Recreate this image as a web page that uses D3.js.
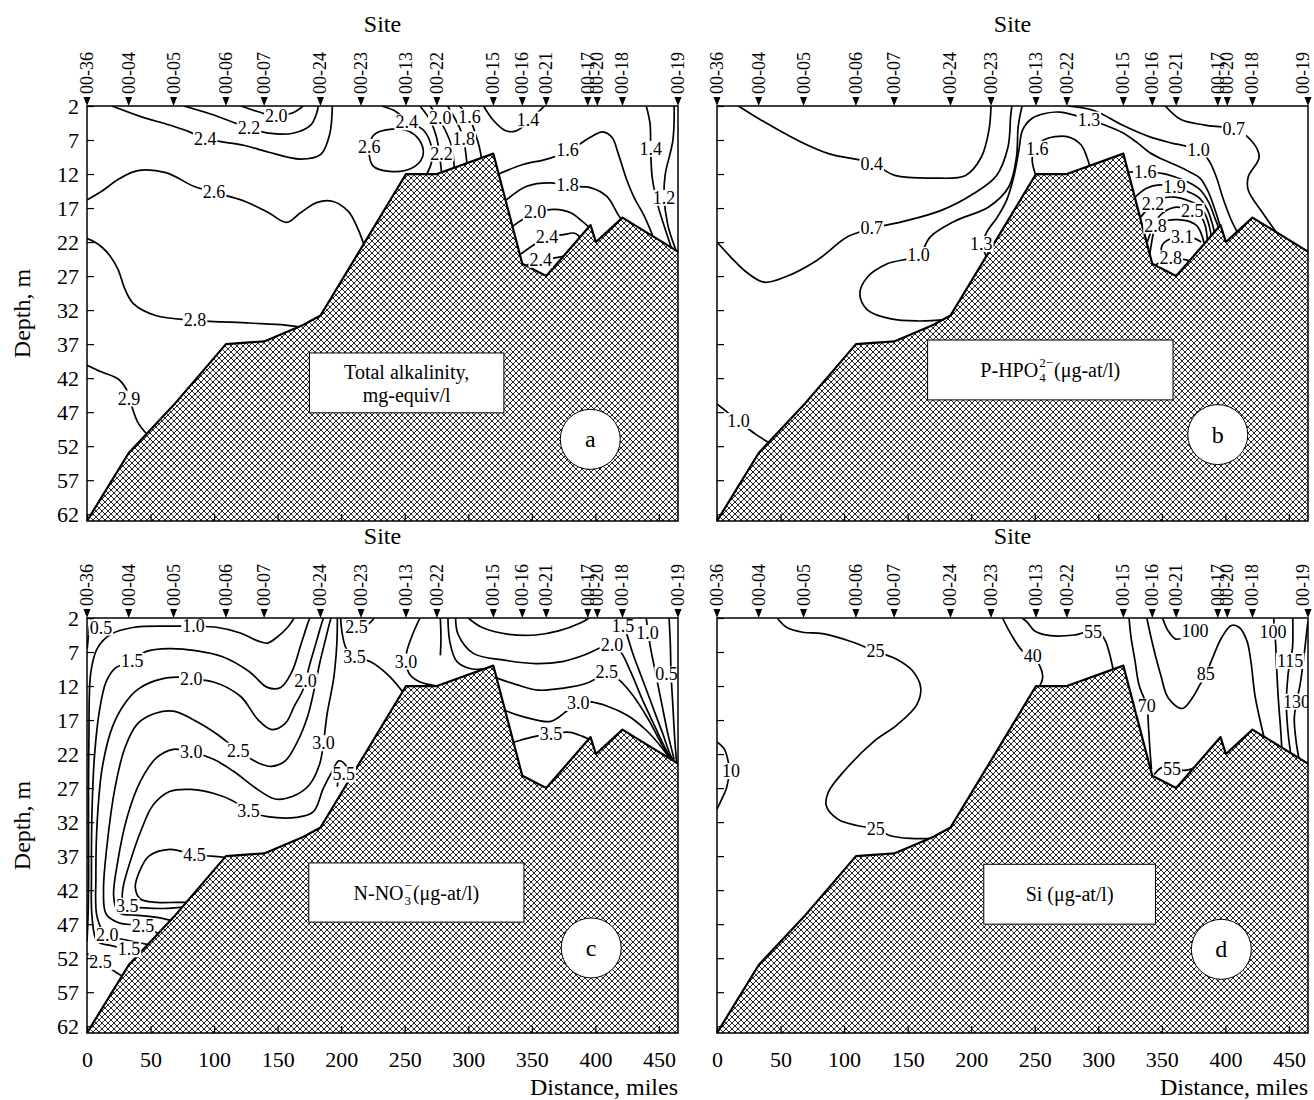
<!DOCTYPE html>
<html>
<head>
<meta charset="utf-8">
<script src="https://cdn.jsdelivr.net/npm/d3@7"></script>
<style>
  body { margin: 0; background: #fff; }
  svg text { font-family: "Liberation Serif", "Times New Roman", serif; fill: #000; }
</style>
</head>
<body>
<svg id="chart" width="1314" height="1100"></svg>
<script>
// stations along the section (miles from 00-36)
const sites = ['00-36','00-04','00-05','00-06','00-07','00-24','00-23','00-13','00-22','00-15','00-16','00-21','00-17','00-20','00-18','00-19'];
const siteMiles = [0, 32.8, 68.1, 109.3, 139.4, 183.7, 215.6, 251, 275.3, 319.7, 342.5, 361.3, 394, 401.5, 421.3, 465];

// bottom profile
const bedMiles = [0, 32.8, 68, 109.3, 139.4, 170, 183.7, 251, 275.3, 319.7, 342.5, 361.3, 396.2, 400.4, 421.3, 465];
const bedDepth = [63, 53, 46, 37, 36.6, 34.2, 32.8, 12, 12, 9, 25.2, 27, 19.5, 22, 18.4, 23.4];

const depthTicks = [2, 7, 12, 17, 22, 27, 32, 37, 42, 47, 52, 57, 62];
const distTicks = [0, 50, 100, 150, 200, 250, 300, 350, 400, 450];

// isolines: [miles, depth]
const alkContours = [
  {v:'2.4', pts:[[19.7,2],[43,3.6],[65,4.8],[80.6,5.8],[93,6.8],[124,7.8],[143,8.8],[168,9.8],[184,9.1],[191,6.1],[193,2]], at:[[93,6.8]]},
  {v:'2.2', pts:[[76,2],[96,3.1],[118,4.6],[127.5,5.3],[143,6],[162,6],[176,4.8],[180.6,3.1],[182,2]], at:[[127.5,5.3]]},
  {v:'2.0', pts:[[121,2],[134,2.8],[149,3.5],[162,3],[170,2]], at:[[149,3.5]]},
  {v:'2.6', closed:true, pts:[[222,8],[226,6.2],[240,5.4],[254,5.8],[263,7.5],[264,9.5],[255,11.2],[238,11.6],[225,10.8]], at:[[222,8]]},
  {v:'2.4', pts:[[232,2],[243,2.8],[252.5,4.3],[265,5.6],[271,8],[271,10.3],[266,12.5]], at:[[251.5,4.4]]},
  {v:'2.2', pts:[[262,2],[270,4.1],[275,6.6],[277.5,9.3],[279,12]], at:[[279,9]]},
  {v:'2.0', pts:[[270,2],[276,3.6],[282,5.6],[287,8],[289,11.2]], at:[[278,3.7]]},
  {v:'1.8', pts:[[283.8,2],[291.6,4.6],[296,6.6],[297.8,8.6],[299,10.6]], at:[[296.5,6.9]]},
  {v:'1.6', pts:[[293,2],[301,3.8],[305.6,6.1],[308.8,8.1],[310.5,9.8]], at:[[301,3.6]]},
  {v:'1.4', pts:[[312,2],[319.7,4.1],[329,5.6],[337,5.7],[348,4.3],[355.6,2.8],[360,2]], at:[[347,4]]},
  {v:'1.6', pts:[[324,12],[343,10.6],[362,9.8],[379,8.6],[396,6.6],[405.6,5.8],[413,6.6],[418,9],[424,12.5],[430.6,15.5],[438,18],[445,21]], at:[[378,8.5]]},
  {v:'1.4', pts:[[440,2],[443,4.6],[443.5,8.3],[444.7,12.5],[449,16.5],[455.6,20.5],[460,23]], at:[[443.5,8.3]]},
  {v:'1.2', pts:[[462,2],[461,7],[455,12],[454,15],[457,19.5],[462,22.5],[464,23.5]], at:[[454,15.5]]},
  {v:'1.8', pts:[[330,15.8],[346,13.8],[365,13.3],[380.6,13.8],[396,14],[409,15.3],[418,18],[421,18.8]], at:[[378,13.6]]},
  {v:'2.0', pts:[[334,19.8],[352.5,17.7],[368,17.2],[380.6,17.7],[390,19],[396,20]], at:[[352.5,17.6]]},
  {v:'2.4', pts:[[341,23.8],[355,22],[362,21.3],[375,20.9],[383.7,20.7],[389,21.5]], at:[[362,21.3]]},
  {v:'2.4', pts:[[345,25.5],[356,24.6],[366,24.4],[377,24]], at:[[357,24.6]]},
  {v:'2.6', pts:[[0,15.8],[11.9,14.5],[24.4,12.8],[40,11.5],[62,11.8],[84,13.8],[100,14.7],[124,16],[143,17.7],[157,19.1],[168,17.7],[180.6,16.2],[193,16],[205.6,17.5],[213,20],[219,23]], at:[[100,14.7]]},
  {v:'2.8', pts:[[0,21.5],[6,22],[12,22.8],[18,24],[24.4,26],[30,29],[36.3,31],[54,32.8],[85,33.5],[128,33.9],[156,34.2],[171,34.6]], at:[[85,33.4]]},
  {v:'2.9', pts:[[0,40.1],[11.6,41.1],[25,42.2],[32,44],[35,46],[40,48.5],[46,50],[51,51]], at:[[33,45]]}
];

const phosContours = [
  {v:'0.4', pts:[[16.9,2],[32.3,3.8],[63,7],[87.8,9],[121.7,10.4],[140,12.2],[171,12.6],[195.6,12.2],[208,9.5],[214,5.5],[215.6,2]], at:[[121.7,10.5]]},
  {v:'0.7', pts:[[0,22],[10.8,24.2],[23,26.4],[37,27.9],[54,27.1],[78.5,24.7],[103,21.2],[121.7,20],[146,19],[177,17.3],[201.7,14.9],[220,12.2],[229,8],[231,3.6],[232,2]], at:[[121.7,20]]},
  {v:'1.0', pts:[[240,2],[237,5],[235.6,9.5],[229.5,13.9],[214,16.8],[186.3,19],[168,21.2],[158.6,23.9],[134,25.2],[118.6,27.1],[112.4,29.6],[118.6,32],[137,33.3],[158.6,33.6],[181,33.4]], at:[[158.6,23.9]]},
  {v:'1.3', pts:[[213,24.6],[209,22.3],[213,20.3],[220,18.5],[228,15.8],[234,12],[237.5,8.5],[240.5,5.5],[248,3.8],[258,3.1],[270,2.9],[292.6,4],[305,4.8],[318.8,5.9],[330,7.3],[340,8.8],[350,9.8],[360,10.6],[372,11.7],[380,12.6],[386,14.4],[391,16.8],[394,18.5],[396,19.8]], at:[[208,22.3],[292.6,4]]},
  {v:'1.6', pts:[[251,12.3],[248,10],[250,8.2],[257,7],[266,6.5],[275.6,6.5],[286.4,7.7],[291,9.5],[293.5,11]], at:[[252,8.3]]},
  {v:'1.0', pts:[[275.7,2],[297,2.7],[318.8,4.8],[340,6.5],[358.8,7.5],[378.8,8.4],[387,10],[393,12.5],[398,15.5],[404,18.5],[410,20.8]], at:[[378.8,8.4]]},
  {v:'0.7', pts:[[352.7,2],[365,4],[383.5,4.8],[406.6,5.4],[420,7],[426.6,9.5],[418,12.4],[418,14.4],[429.7,17.8],[441,20.8]], at:[[406.6,5.4]]},
  {v:'1.6', pts:[[323.5,11.7],[337,11.7],[350,11.9],[360,12.4],[372,13.3],[380,14.3],[387,16.2],[392,18.6],[395,20]], at:[[337,11.7]]},
  {v:'1.9', pts:[[329,15.4],[338,14.1],[348,13.6],[360,13.9],[372,14.7],[380,15.6],[386,17.3],[390,19.5],[391.5,20.8]], at:[[360,13.9]]},
  {v:'2.2', pts:[[333.5,18.3],[343,16.4],[352,15.5],[360,15.4],[372,16],[380,16.8],[385,18.3],[388,20.2],[389,21.3]], at:[[343,16.4]]},
  {v:'2.5', pts:[[338.5,22],[348,18.2],[360,16.9],[374,17.4],[380,18],[384,19.5],[386,22]], at:[[374,17.4]]},
  {v:'2.8', pts:[[340.5,23.8],[343,21],[345,19.6],[355,18.8],[362,18.7],[372,19],[378,19.7],[382,21.3],[383.5,22.5]], at:[[345,19.6]]},
  {v:'3.1', pts:[[381,22],[372,21.2],[366,21.3],[356,21.6],[350.5,22.4],[350,23.5],[353.5,24],[358,23.6]], at:[[366,21.3]]},
  {v:'2.8', pts:[[343.5,25.5],[357,24.4],[366,24.5],[373,24.8]], at:[[357,24.4]]},
  {v:'1.0', pts:[[0,45.8],[8,47],[19,48.6],[30,50.2],[42,51.6]], at:[[17,48.3]]}
];

const nitContours = [
  {v:'0.5', pts:[[3,2],[1.5,4],[0.2,6.5]], at:[[11,3.4]]},
  {v:'1.0', pts:[[163,2],[157.7,3.4],[149,4.9],[142,5.7],[134.8,5.4],[120.7,4.2],[103,3.4],[83.8,3.2],[64.4,3.2],[36,3.4],[18.7,4.4],[8,6.5],[3,10],[1.5,20],[1.2,30],[1.3,40],[0.8,46],[0,49.5]], at:[[83.8,3.2]]},
  {v:'1.5', pts:[[175.3,2],[173.5,2.9],[168.3,5.9],[161.2,9.9],[152.4,12.2],[141.9,12.2],[127.8,9.9],[106.7,7.7],[85.5,6.8],[64.4,6.5],[46.8,6.9],[35.6,8.3],[22,9.4],[15,11.4],[9.9,15.5],[6,22],[4,30],[3.5,40],[4,46],[8,49.5],[20,50.2],[34,50.8],[44,51]], at:[[35.6,8.3],[33,50.7]]},
  {v:'2.0', pts:[[186,2],[183.5,3.5],[180.6,5.4],[175,9],[170,12.5],[163,15],[156,17.5],[145.4,18.4],[134.8,17],[120.7,13.5],[99.6,11.4],[82,11],[71.5,10.7],[53.9,11.2],[40,12.5],[30,14.5],[20,18],[12,24],[8,32],[7,40],[8,46],[15,48.6],[30,49.3],[48,50]], at:[[82,11],[172,11.2],[16,48.6]]},
  {v:'2.5', pts:[[192,2],[190.5,3],[188,4.9],[183.4,8.4],[178.8,12.5],[173.5,16.5],[164.7,20.5],[156,23],[145.4,23.8],[134.8,23.3],[119,21.5],[104,19.3],[89,17.5],[68,15.7],[53.9,16],[40,17.5],[30,21],[22,27],[16,35],[13,42],[15,45.5],[25,46.8],[44,47.3],[57,48.5]], at:[[119,21.5],[44,47.3]]},
  {v:'3.0', pts:[[197,2],[196.5,6],[194,11],[189,16],[186,20.4],[183,23.5],[175,26.5],[162,28.2],[148,28.6],[135,27.3],[115,24.5],[100,22.8],[82,21.7],[68,21.3],[55,22.5],[42,26],[32,31],[24,38],[21,43],[25,45.3],[40,45.7],[55,46],[67,46.5]], at:[[82,21.7],[186,20.4]]},
  {v:'3.5', pts:[[207,25.8],[203,23.5],[198,23],[193,24.5],[186,27],[178,30.5],[165,31.3],[142,31.2],[127,30.4],[115,28.9],[100,27.8],[82,27.2],[65,27.5],[52,29.5],[42,33.5],[34,37.8],[28.5,41.5],[28,43.4],[31.7,44.3],[45,44.6],[60,44.7],[76,44.5]], at:[[127,30.4],[31.7,44.3]]},
  {v:'4.5', pts:[[110,37.2],[98,37],[84.6,36.8],[65.2,36],[48.7,37],[41,39.4],[38,41.6],[42,43.3],[55,43.8],[70,43.8],[79,43.8]], at:[[84.6,36.8]]},
  {v:'2.5', pts:[[0,51.3],[5,52],[10.6,52.6],[18,53.5],[29,54.8]], at:[[10.6,52.6]]},
  {v:'2.5', pts:[[203,2],[206,2.8],[210.5,3.3],[217,3.3],[222,2.8],[226,2]], at:[[212,3.3]]},
  {v:'3.5', pts:[[199.5,2],[201,4.5],[204,6.5],[210.5,7.7],[222.8,8.4],[237,10.4],[249,13]], at:[[210.5,7.7]]},
  {v:'5.5', pts:[[197,26.8],[199,25.3],[205,25.2],[207,26]], at:[[202,25]]},
  {v:'3.0', pts:[[262,2],[256,4.5],[251.5,7],[251,8.4],[254,10.3],[262,11.4],[276,12]], at:[[251,8.4]]},
  {v:'', pts:[[278,2],[278.5,5],[278,7.5]]},
  {v:'', pts:[[284,2],[285.5,5.5],[291,8.4],[303,9.5],[316,9.4]]},
  {v:'', pts:[[300,2],[311,3.4],[332,4.4],[353,4.5],[371,3.9],[388.6,2.7],[395,2]]},
  {v:'2.0', pts:[[290,2],[292,4.4],[304,7.2],[328.5,8.2],[353,8.7],[374,8.4],[391.8,7.4],[405,6.3],[413,5.9],[420,7],[428,10],[437,14],[447,18],[456,21.5],[462,23.2]], at:[[413,5.9]]},
  {v:'2.5', pts:[[322,10.8],[338,11.8],[355,12.6],[375,12.3],[393,11.6],[405,10.4],[409,9.9],[418,11],[430,13.5],[442,17],[452,20.5],[461,23.2]], at:[[409,9.9]]},
  {v:'3.0', pts:[[329,15.6],[345,16.6],[365,17.2],[378,15.6],[386.5,14.5],[395,14.3],[410,15],[425,16.3],[440,18.5],[452,21],[460,23.1]], at:[[386.5,14.5]]},
  {v:'3.5', pts:[[335,20.3],[350,19.5],[365,19],[380,18.8],[390,19.4],[396,19.9]], at:[[365,19]]},
  {v:'1.5', pts:[[420,2],[424,4],[430,7.5],[437,11],[445,15],[453,19],[460,22.5],[464,23.4]], at:[[421.7,3.2]]},
  {v:'1.0', pts:[[440,2],[443,6],[446.6,9.4],[452,14.4],[457,19],[462,22.8]], at:[[441,4.2]]},
  {v:'0.5', pts:[[458,2],[459,6],[459.5,10],[461,15],[462.5,20],[464,23.4]], at:[[456,10.3]]}
];

const silContours = [
  {v:'25', pts:[[47.3,2],[55,3.4],[67.4,4.1],[83,4.3],[107.7,5.6],[124.7,6.9],[141.7,8.1],[154,9.8],[160.3,12.3],[157,14.8],[141.7,17.7],[123,20.2],[101.5,24.2],[87.6,27.6],[86,29.6],[95.3,31.6],[110,32.5],[125,33],[136.4,34],[152,34.4],[171,34.4]], at:[[124.7,6.9],[125,33]]},
  {v:'10', pts:[[0,20.2],[5.6,21.2],[8.7,23],[9.5,24.5],[7.5,27],[4,28.5],[0,30.1]], at:[[11,24.5]]},
  {v:'40', pts:[[224.6,2],[231.4,4.4],[240.7,6.9],[248.4,7.6],[254.6,9.3],[256.2,10.8],[253,12.3]], at:[[248.4,7.6]]},
  {v:'55', pts:[[240,2],[244,2.6],[250,3.9],[262.4,4.6],[281,4.5],[295.8,3.9],[302,4.4],[305.7,5.4],[308.9,7.3],[312,9.8]], at:[[295.8,4]]},
  {v:'70', pts:[[324.2,2],[325.8,4.9],[328.9,8.3],[332,11.8],[338.2,15],[339.5,18],[340.5,21],[341.8,24.2]], at:[[338.2,15]]},
  {v:'55', pts:[[344,25],[350,24],[358,24.2],[368,24.4],[376.5,24]], at:[[358,24.2]]},
  {v:'85', pts:[[338.2,2],[342.8,5.9],[349,10.3],[355.2,13.8],[366,15.3],[373.8,13.8],[380,11.8],[384.6,10.3],[389,8.3],[397,4.9],[404.7,3.1],[411,3.4],[417,5.4],[420,8.3],[423.2,13.3],[426.4,16.3],[430.5,19.6]], at:[[384.6,10.3]]},
  {v:'100', pts:[[350.5,2],[355,3.9],[361,5.1],[368,4.8],[376,3.9]], at:[[376,3.9]]},
  {v:'100', pts:[[438.1,2],[438.5,4],[439.4,5.4],[440.3,9.3],[441.8,14.3],[443.4,18.2],[444.5,21.5]], at:[[437.5,4]]},
  {v:'115', pts:[[453,2],[452.8,6.4],[451,8.3],[449.3,10.3],[448,14.8],[449.5,19.2],[451.7,22.3]], at:[[451,8.3]]},
  {v:'130', pts:[[465,2.5],[464,4],[462,7.3],[458.8,11.8],[456,14.3],[454.2,16.8],[455.7,20.2],[458,22.8]], at:[[456,14.3]]}
];

const W = 591, H = 415;
const svg = d3.select('#chart');
const defs = svg.append('defs');

// cross hatching for the sea floor
const hatch = defs.append('pattern')
  .attr('id', 'hatch')
  .attr('patternUnits', 'userSpaceOnUse')
  .attr('width', 6).attr('height', 6);
hatch.append('rect').attr('width', 6).attr('height', 6).attr('fill', '#fff');
hatch.append('path')
  .attr('d', 'M0,0L6,6M6,0L0,6M-1,5L1,7M5,-1L7,1M-1,1L1,-1M5,7L7,5')
  .attr('stroke', '#000').attr('stroke-width', 0.85);

const panels = [
  {id:'a', x0:87, y0:106, contours:alkContours, yLabels:true, xLabels:false, box:[175,328,38.3,47.1], circle:[396,51]},
  {id:'b', x0:717, y0:106, contours:phosContours, yLabels:false, xLabels:false, box:[165.7,358.8,36.4,45.2], circle:[394,50.3]},
  {id:'c', x0:87, y0:618, contours:nitContours, yLabels:true, xLabels:true, box:[174.5,343.8,38,46.7], circle:[396.7,50.5]},
  {id:'d', x0:717, y0:618, contours:silContours, yLabels:false, xLabels:true, box:[209.9,345,38.2,47], circle:[396.8,50.7]}
];

const x = d3.scaleLinear().domain([0, 465]).range([0, W]);
const y = d3.scaleLinear().domain([2, 63]).range([0, H]);

const isoLine = d3.line().x(d => x(d[0])).y(d => y(d[1])).curve(d3.curveCatmullRom.alpha(0.5));
const isoLoop = d3.line().x(d => x(d[0])).y(d => y(d[1])).curve(d3.curveCatmullRomClosed.alpha(0.5));
const bedLine = d3.line().x(d => x(d[0])).y(d => y(d[1]));
const bedArea = d3.area().x(d => x(d[0])).y0(H).y1(d => y(d[1]));
const bed = bedMiles.map((m, i) => [m, bedDepth[i]]);

function chemText(g, cx, cy, base, sub, sup, tail) {
  const t = g.append('g');
  const b = t.append('text').attr('x', 0).attr('y', 0).attr('font-size', 20)
    .attr('dominant-baseline', 'central').text(base);
  const w1 = b.node().getComputedTextLength();
  const su = t.append('text').attr('x', w1 + 1).attr('y', -7).attr('font-size', 13)
    .attr('dominant-baseline', 'central').text(sup);
  const sb = t.append('text').attr('x', w1 + 1).attr('y', 8).attr('font-size', 13)
    .attr('dominant-baseline', 'central').text(sub);
  const w2 = Math.max(su.node().getComputedTextLength(), sb.node().getComputedTextLength());
  const tl = t.append('text').attr('x', w1 + 2 + w2).attr('y', 0).attr('font-size', 20)
    .attr('dominant-baseline', 'central').text(tail);
  const tw = w1 + 2 + w2 + tl.node().getComputedTextLength();
  t.attr('transform', `translate(${cx - tw / 2},${cy})`);
}

panels.forEach(p => {
  const g = svg.append('g').attr('transform', `translate(${p.x0},${p.y0})`);

  defs.append('clipPath').attr('id', 'clip-' + p.id)
    .append('rect').attr('width', W).attr('height', H);

  // isolines
  const cg = g.append('g').attr('clip-path', `url(#clip-${p.id})`);
  p.contours.forEach(c => {
    cg.append('path')
      .attr('d', (c.closed ? isoLoop : isoLine)(c.pts))
      .attr('fill', 'none')
      .attr('stroke', '#000')
      .attr('stroke-width', 1.7);
  });

  // sea floor
  g.append('path').attr('d', bedArea(bed)).attr('fill', 'url(#hatch)');
  g.append('path').attr('d', bedLine(bed)).attr('fill', 'none')
    .attr('stroke', '#000').attr('stroke-width', 2.2).attr('stroke-linejoin', 'round');

  // isoline labels on a white patch that breaks the line
  const lg = g.append('g').attr('clip-path', `url(#clip-${p.id})`);
  p.contours.forEach(c => (c.at || []).forEach(a => {
    const lab = lg.append('g');
    const t = lab.append('text')
      .attr('x', x(a[0])).attr('y', y(a[1]))
      .attr('text-anchor', 'middle')
      .attr('dominant-baseline', 'central')
      .attr('font-size', 18)
      .text(c.v);
    const bb = t.node().getBBox();
    lab.insert('rect', 'text')
      .attr('x', bb.x - 1).attr('y', bb.y + 2)
      .attr('width', bb.width + 2).attr('height', bb.height - 4)
      .attr('fill', '#fff');
  }));

  // legend box
  const bx = x(p.box[0]), bw = x(p.box[1]) - x(p.box[0]);
  const by = y(p.box[2]), bh = y(p.box[3]) - y(p.box[2]);
  g.append('rect').attr('x', bx).attr('y', by).attr('width', bw).attr('height', bh)
    .attr('fill', '#fff').attr('stroke', '#000').attr('stroke-width', 1);
  const cx = bx + bw / 2, cy = by + bh / 2;
  if (p.id === 'a') {
    g.append('text').attr('x', cx).attr('y', cy - 11).attr('text-anchor', 'middle')
      .attr('dominant-baseline', 'central').attr('font-size', 20).text('Total alkalinity,');
    g.append('text').attr('x', cx).attr('y', cy + 12).attr('text-anchor', 'middle')
      .attr('dominant-baseline', 'central').attr('font-size', 20).text('mg-equiv/l');
  } else if (p.id === 'b') {
    chemText(g, cx, cy, 'P-HPO', '4', '2\u2212', ' (\u03bcg-at/l)');
  } else if (p.id === 'c') {
    chemText(g, cx, cy, 'N-NO', '3', '\u2212', '(\u03bcg-at/l)');
  } else {
    g.append('text').attr('x', cx).attr('y', cy).attr('text-anchor', 'middle')
      .attr('dominant-baseline', 'central').attr('font-size', 20).text('Si (\u03bcg-at/l)');
  }

  // panel letter
  g.append('circle').attr('cx', x(p.circle[0])).attr('cy', y(p.circle[1])).attr('r', 30)
    .attr('fill', '#fff').attr('stroke', '#000').attr('stroke-width', 1);
  g.append('text').attr('x', x(p.circle[0])).attr('y', y(p.circle[1]))
    .attr('text-anchor', 'middle').attr('dominant-baseline', 'central')
    .attr('font-size', 24).text(p.id);

  // axes with inward ticks
  const ya = d3.axisLeft(y).tickValues(depthTicks).tickSizeInner(-7).tickSizeOuter(0).tickPadding(8);
  if (!p.yLabels) ya.tickFormat('');
  g.append('g').call(ya)
    .attr('font-size', 22).attr('font-family', '"Liberation Serif", serif')
    .call(a => a.select('.domain').remove())
    .call(a => a.selectAll('line').attr('stroke-width', 1.2));

  const xa = d3.axisBottom(x).tickValues(distTicks).tickSizeInner(-7).tickSizeOuter(0).tickPadding(18);
  if (!p.xLabels) xa.tickFormat('');
  g.append('g').attr('transform', `translate(0,${H})`).call(xa)
    .attr('font-size', 22).attr('font-family', '"Liberation Serif", serif')
    .call(a => a.select('.domain').remove())
    .call(a => a.selectAll('line').attr('stroke-width', 1.2));

  // frame
  g.append('rect').attr('width', W).attr('height', H)
    .attr('fill', 'none').attr('stroke', '#000').attr('stroke-width', 1.5);

  // stations
  siteMiles.forEach((m, i) => {
    const sx = x(m);
    g.append('path').attr('d', `M${sx - 3.5},-9L${sx + 3.5},-9L${sx},0Z`).attr('fill', '#000');
    const lx = p.x0 + sx > 1300 ? sx - 5 : sx;
    g.append('text')
      .attr('transform', `translate(${lx},-12) rotate(-90)`)
      .attr('dominant-baseline', 'central')
      .attr('font-size', 18)
      .text(sites[i]);
  });
  g.append('text').attr('x', W / 2).attr('y', -82)
    .attr('text-anchor', 'middle').attr('dominant-baseline', 'central')
    .attr('font-size', 24).text('Site');

  if (p.yLabels) {
    g.append('text')
      .attr('transform', `translate(${22 - p.x0},${H / 2}) rotate(-90)`)
      .attr('text-anchor', 'middle').attr('dominant-baseline', 'central')
      .attr('font-size', 24).text('Depth, m');
  }
  if (p.xLabels) {
    g.append('text').attr('x', W).attr('y', H + 62)
      .attr('text-anchor', 'end')
      .attr('font-size', 24).text('Distance, miles');
  }
});
</script>
</body>
</html>
